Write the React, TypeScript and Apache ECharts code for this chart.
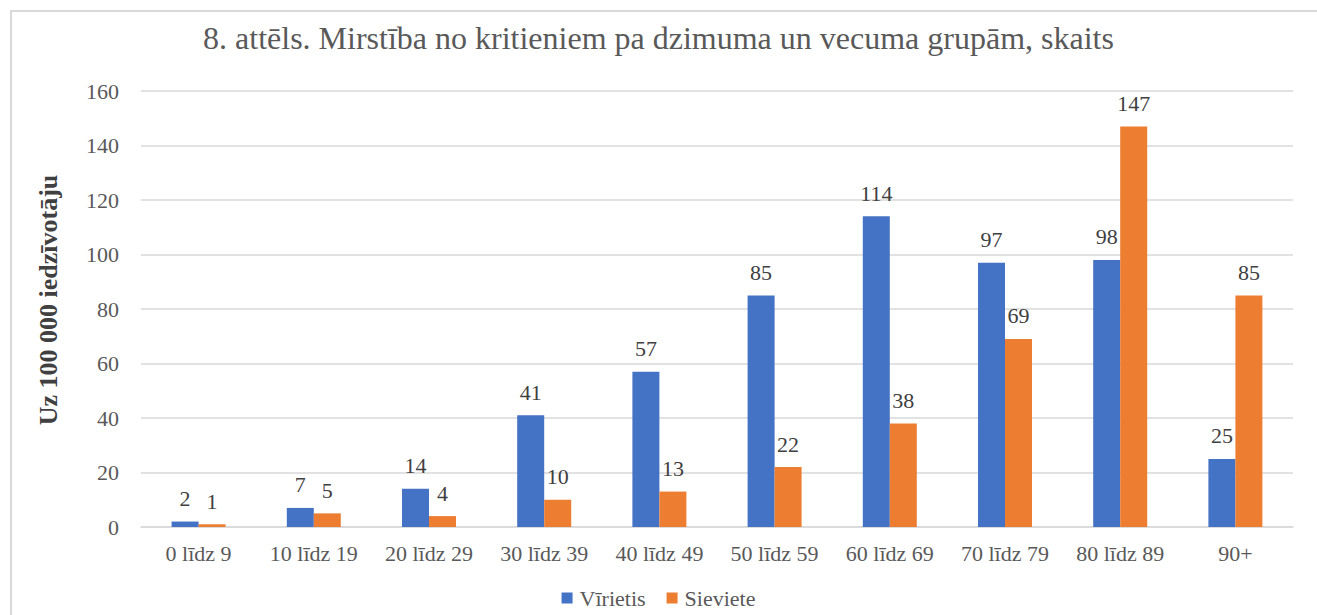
import React, { useEffect, useRef } from "react";
import * as echarts from "echarts";

const categories = ["0 līdz 9", "10 līdz 19", "20 līdz 29", "30 līdz 39", "40 līdz 49", "50 līdz 59", "60 līdz 69", "70 līdz 79", "80 līdz 89", "90+"];
const maleValues = [2, 7, 14, 41, 57, 85, 114, 97, 98, 25];
const femaleValues = [1, 5, 4, 10, 13, 22, 38, 69, 147, 85];
const seriesNames = ["Vīrietis", "Sieviete"];
const titleText = "8. attēls. Mirstība no kritieniem pa dzimuma un vecuma grupām, skaits";
const yAxisName = "Uz 100 000 iedzīvotāju";

const FONT = "Liberation Serif";

export default function App() {
  const ref = useRef<HTMLDivElement>(null);
  useEffect(() => {
    if (!ref.current) return;
    const chart = echarts.init(ref.current, null, { renderer: "svg" });
    const label = {
      show: true,
      position: "top",
      distance: 12,
      fontFamily: FONT,
      fontSize: 22,
      color: "#404040",
    };
    chart.setOption({
      animation: false,
      backgroundColor: "#ffffff",
      textStyle: { fontFamily: FONT },
      title: {
        text: titleText,
        left: "center",
        top: 17,
        textStyle: { fontFamily: FONT, fontSize: 32, fontWeight: "normal", color: "#595959" },
      },
      graphic: [
        {
          type: "rect",
          shape: { x: 11, y: 11, width: 1320, height: 640 },
          style: { fill: "none", stroke: "#d9d9d9", lineWidth: 2 },
          silent: true,
        },
      ],
      legend: {
        bottom: 1,
        left: "center",
        itemWidth: 11,
        itemHeight: 11,
        itemGap: 21,
        icon: "rect",
        textStyle: { fontFamily: FONT, fontSize: 22, color: "#595959", padding: [0, 0, 0, 2] },
        data: seriesNames,
      },
      grid: { left: 141, right: 24, top: 91, bottom: 88 },
      xAxis: {
        type: "category",
        data: categories,
        axisTick: { show: false },
        axisLine: { lineStyle: { color: "#d9d9d9", width: 1.5 } },
        axisLabel: { fontFamily: FONT, fontSize: 22, color: "#595959", margin: 15 },
      },
      yAxis: {
        type: "value",
        min: 0,
        max: 160,
        interval: 20,
        name: yAxisName,
        nameLocation: "middle",
        nameGap: 80,
        nameTextStyle: {
          fontFamily: FONT,
          fontSize: 26,
          fontWeight: "bold",
          color: "#404040",
          padding: [0, 0, 0, 18],
        },
        axisLabel: { fontFamily: FONT, fontSize: 22, color: "#595959", margin: 22 },
        splitLine: { lineStyle: { color: "#d9d9d9", width: 1.5 } },
        axisLine: { show: false },
        axisTick: { show: false },
      },
      series: [
        {
          name: seriesNames[0],
          type: "bar",
          data: maleValues,
          barWidth: 27,
          barGap: "0%",
          itemStyle: { color: "#4472c4" },
          label,
        },
        {
          name: seriesNames[1],
          type: "bar",
          data: femaleValues,
          barWidth: 27,
          barGap: "0%",
          itemStyle: { color: "#ed7d31" },
          label,
        },
      ],
    });
    return () => chart.dispose();
  }, []);
  return (
    <div
      ref={ref}
      style={{ position: "absolute", left: 0, top: 0, width: 1317, height: 615 }}
    />
  );
}
